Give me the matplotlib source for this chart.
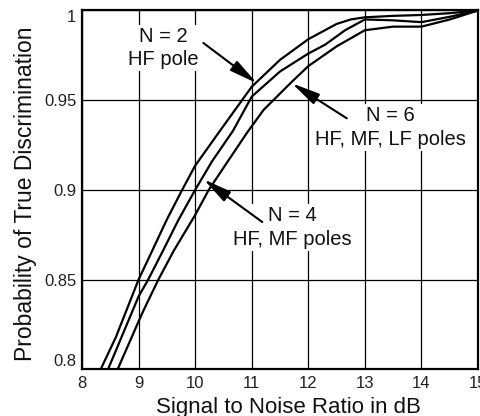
import matplotlib
matplotlib.use("Agg")
import matplotlib.pyplot as plt

plt.rcParams['font.family'] = ['Liberation Sans', 'DejaVu Sans']

# N = 2, HF pole (top curve)
snr_n2 = [8.33, 8.6, 9.0, 9.24, 9.5, 9.77, 10.0, 10.44, 11.0, 11.5, 12.0, 12.5, 12.75, 13.0, 13.5, 14.0, 14.5, 15.0]
p_n2 = [0.800, 0.818, 0.850, 0.866, 0.8835, 0.900, 0.9135, 0.933, 0.9575, 0.9725, 0.984, 0.9925, 0.995, 0.9962, 0.997, 0.9975, 0.9985, 1.000]

# N = 4, HF, MF poles (middle curve)
snr_n4 = [8.46, 9.0, 9.17, 9.43, 9.7, 10.0, 10.3, 10.67, 11.0, 11.5, 12.0, 12.3, 12.65, 13.0, 13.5, 14.0, 14.5, 15.0]
p_n4 = [0.800, 0.8406, 0.850, 0.866, 0.883, 0.900, 0.916, 0.933, 0.952, 0.966, 0.976, 0.981, 0.989, 0.995, 0.9945, 0.9935, 0.9965, 1.000]

# N = 6, HF, MF, LF poles (bottom curve)
snr_n6 = [8.63, 9.0, 9.09, 9.35, 9.62, 10.0, 10.24, 10.6, 10.92, 11.21, 11.71, 12.0, 12.5, 13.0, 13.5, 14.0, 14.5, 15.0]
p_n6 = [0.800, 0.8267, 0.833, 0.850, 0.866, 0.886, 0.900, 0.917, 0.932, 0.9446, 0.9603, 0.969, 0.980, 0.989, 0.991, 0.991, 0.995, 1.000]

xticks = [8, 9, 10, 11, 12, 13, 14, 15]
yticks = [0.8, 0.85, 0.9, 0.95, 1.0]
ytick_labels = ['0.8', '0.85', '0.9', '0.95', '1']

fig = plt.figure(figsize=(4.8, 4.16), dpi=100)
ax = fig.add_axes([0.1708, 0.1122, 0.8252, 0.8626])

for xs, ys in [(snr_n2, p_n2), (snr_n4, p_n4), (snr_n6, p_n6)]:
    ax.plot(xs, ys, color='black', lw=1.6, zorder=3)

ax.set_xlim(8, 15)
ax.set_ylim(0.8, 1.0)
ax.set_xticks(xticks)
ax.set_xticklabels([str(t) for t in xticks])
ax.set_yticks(yticks)
ax.set_yticklabels(ytick_labels)
ax.grid(True, color='black', lw=0.9)
ax.set_axisbelow(True)
ax.tick_params(length=0, labelsize=12, colors='#222222')
ax.tick_params(axis='x', pad=5)
ax.tick_params(axis='y', pad=4)
for sp in ax.spines.values():
    sp.set_linewidth(1.6)

labs = ax.get_yticklabels()
labs[0].set_va('bottom')
labs[-1].set_va('top')

fig.text(0.6, 1 - 412.5 / 416, 'Signal to Noise Ratio in dB', fontsize=16,
         color='#111111', ha='center', va='baseline')
ax.set_ylabel('Probability of True Discrimination', fontsize=16.5, color='#111111')
ax.yaxis.set_label_coords(-0.114, 0.49)

box = dict(facecolor='white', edgecolor='none', pad=1.5)
tkw = dict(ha='center', va='center', fontsize=14.5, linespacing=1.28, bbox=box,
           zorder=4, color='#111111')
ax.text(9.44, 0.979, 'N = 2\nHF pole', **tkw)
ax.text(11.72, 0.879, 'N = 4\nHF, MF poles', **tkw)
ax.text(13.45, 0.9348, 'N = 6\nHF, MF, LF poles', **tkw)

arrow = dict(arrowstyle='-|>,head_length=0.95,head_width=0.2', color='black', lw=1.5,
             shrinkA=0, shrinkB=0, mutation_scale=18)
ax.annotate('', xy=(11.093, 0.9594), xytext=(10.145, 0.9819), arrowprops=arrow, zorder=5)
ax.annotate('', xy=(10.150, 0.9059), xytext=(11.186, 0.8821), arrowprops=arrow, zorder=5)
ax.annotate('', xy=(11.71, 0.9594), xytext=(12.68, 0.9399), arrowprops=arrow, zorder=5)

fig.savefig('out.png', dpi=100)
